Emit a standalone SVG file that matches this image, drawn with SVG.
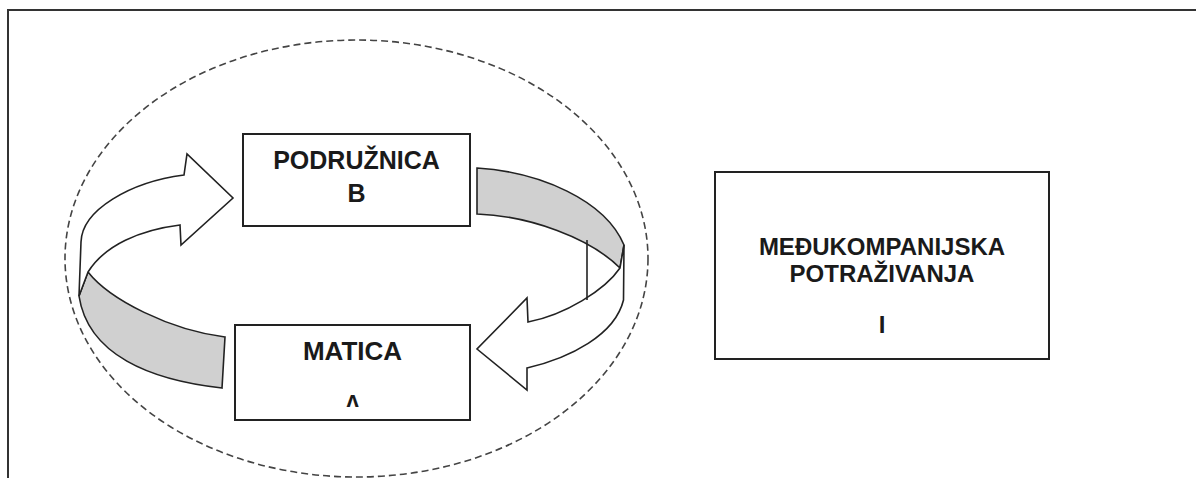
<svg xmlns="http://www.w3.org/2000/svg" width="1196" height="478" viewBox="0 0 1196 478">
<style>
.box{fill:#fff;stroke:#222;stroke-width:2}
.t{font-family:"Liberation Sans",Arial,sans-serif;font-weight:bold;fill:#1a1a1a;text-anchor:middle}
.rib{fill:#fff;stroke:#222;stroke-width:1.6;stroke-linejoin:miter}
.back{fill:#d0d0d0;stroke:#222;stroke-width:1.6}
</style>
<rect width="1196" height="478" fill="#fff"/>
<g id="frame" fill="none" stroke="#333" stroke-width="2">
<path d="M8,478 L8,10 L1196,10"/>
</g>
<g id="group-ellipse">
<ellipse cx="356.5" cy="258.5" rx="291.5" ry="218.5" fill="none" stroke="#444" stroke-width="1.6" stroke-dasharray="7,4"/>
</g>
<g id="connectors">
<path class="back" d="M88,272 C110,300 170,330 225,337 L222,388 C150,380 88,355 79,296 Z"/>
<path class="rib" d="M79,296 L81,242 C82,210 130,182 184,175 L187,154 L233,198 L181,245 L180,225 C140,230 105,245 88,272 Z"/>
<path class="back" d="M477,168 C540,172 605,200 624,245 L620,268 C590,238 530,216 477,214 Z"/>
<path class="rib" d="M620,268 C605,290 565,315 528,322 L527,298 L477,349 L527,390 L527,368 C570,358 615,335 623.5,300 L624,245 Z"/>
<line x1="587" y1="240" x2="587" y2="300" stroke="#222" stroke-width="1.6"/>
</g>
<g id="node-podruznica">
<rect class="box" x="243" y="134" width="227" height="92"/>
<text class="t" x="356.5" y="169" font-size="25">PODRUŽNICA</text>
<text class="t" x="356.5" y="202" font-size="25">B</text>
</g>
<g id="node-matica">
<rect class="box" x="235" y="325" width="235" height="95"/>
<text class="t" x="352.5" y="360" font-size="26">MATICA</text>
<text class="t" x="352.5" y="407" font-size="22">ʌ</text>
</g>
<g id="node-potrazivanja">
<rect class="box" x="715" y="172" width="334" height="187"/>
<text class="t" x="882" y="255" font-size="24">MEĐUKOMPANIJSKA</text>
<text class="t" x="882" y="282" font-size="24">POTRAŽIVANJA</text>
<text class="t" x="882" y="333" font-size="24">I</text>
</g>
</svg>
